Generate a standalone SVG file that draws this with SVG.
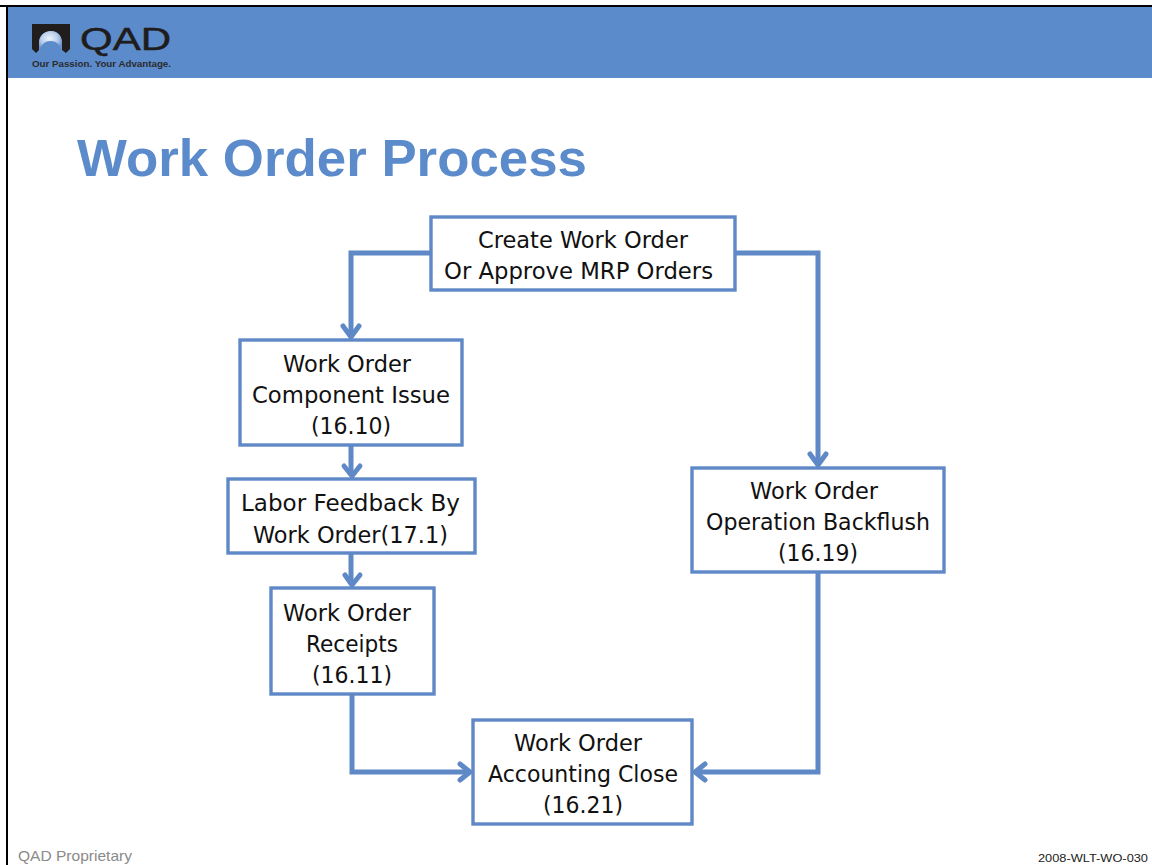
<svg xmlns="http://www.w3.org/2000/svg" width="1152" height="865" viewBox="0 0 1152 865">
<style>
.box{fill:#fff;stroke:#5f88c6;stroke-width:3.4}
.t{font-family:"DejaVu Sans",Verdana,sans-serif;font-size:23px;fill:#111;text-anchor:middle}
.c{fill:none;stroke:#5f88c6;stroke-width:5}
.h{fill:none;stroke:#5f88c6;stroke-width:5;stroke-linecap:round;stroke-linejoin:round}
</style>
<defs>
<radialGradient id="g" cx="0.45" cy="0.4" r="0.6"><stop offset="0" stop-color="#eef2fa"/><stop offset="0.6" stop-color="#b9cdea"/><stop offset="1" stop-color="#6d93cc"/></radialGradient>
</defs>
<rect width="1152" height="865" fill="#fff"/>
<rect x="7" y="6" width="1145" height="72" fill="#5b8bcb"/>
<rect x="0" y="5" width="1152" height="2" fill="#000"/>
<rect x="6" y="5" width="2" height="860" fill="#000"/>
<g id="logo">
<path d="M32 24H70V49L66 53L62 50V43C62 36 58 31 51 31C44 31 39 36 39 43V50L36 53L32 49Z" fill="#211d1c"/>
<path d="M39 50V43C39 36 44 31 51 31C58 31 62 36 62 43V50L58 44C55 40 46 40 43 44Z" fill="url(#g)"/>
<text x="80" y="50" font-family="'Liberation Sans',sans-serif" font-size="32" stroke="#1f1c1c" stroke-width="0.5" fill="#1f1c1c" textLength="91" lengthAdjust="spacingAndGlyphs">QAD</text>
<text x="32" y="67" font-family="'Liberation Sans',sans-serif" font-size="9" font-weight="700" fill="#2a2a2a" textLength="139" lengthAdjust="spacingAndGlyphs">Our Passion. Your Advantage.</text>
</g>
<text x="77" y="176" font-family="'Liberation Sans',Arial,sans-serif" font-size="52" font-weight="700" fill="#5b8bcb" textLength="510" lengthAdjust="spacingAndGlyphs">Work Order Process</text>
<g id="connectors">
<path class="c" d="M431 253H351V336"/><path class="h" d="M343 326L351 337L359 326"/>
<path class="c" d="M735 253H818V464"/><path class="h" d="M810 454L818 465L826 454"/>
<path class="c" d="M351 445V475"/><path class="h" d="M344 466L352 476L360 466"/>
<path class="c" d="M351 553V584"/><path class="h" d="M345 575L352 585L360 575"/>
<path class="c" d="M352 694V772H469"/><path class="h" d="M460 764L470 772L460 780"/>
<path class="c" d="M818 572V772H696"/><path class="h" d="M705 764L695 772L705 780"/>
</g>
<g id="n1"><rect class="box" x="431" y="217" width="304" height="73"/><text class="t" x="583" y="248" textLength="210" lengthAdjust="spacingAndGlyphs">Create Work Order</text><text class="t" x="578.5" y="279" textLength="269" lengthAdjust="spacingAndGlyphs">Or Approve MRP Orders</text></g>
<g id="n2"><rect class="box" x="240" y="340" width="222" height="105"/><text class="t" x="347" y="372" textLength="128" lengthAdjust="spacingAndGlyphs">Work Order</text><text class="t" x="351" y="403" textLength="198" lengthAdjust="spacingAndGlyphs">Component Issue</text><text class="t" x="351" y="434" textLength="80" lengthAdjust="spacingAndGlyphs">(16.10)</text></g>
<g id="n3"><rect class="box" x="228" y="479" width="247" height="74"/><text class="t" x="350.500" y="511" textLength="219" lengthAdjust="spacingAndGlyphs">Labor Feedback By</text><text class="t" x="350.500" y="543" textLength="195" lengthAdjust="spacingAndGlyphs">Work Order(17.1)</text></g>
<g id="n4"><rect class="box" x="271" y="588" width="163" height="106"/><text class="t" x="347" y="621" textLength="128" lengthAdjust="spacingAndGlyphs">Work Order</text><text class="t" x="352" y="652" textLength="92" lengthAdjust="spacingAndGlyphs">Receipts</text><text class="t" x="352" y="683" textLength="80" lengthAdjust="spacingAndGlyphs">(16.11)</text></g>
<g id="n5"><rect class="box" x="692" y="468" width="252" height="104"/><text class="t" x="814" y="499" textLength="128" lengthAdjust="spacingAndGlyphs">Work Order</text><text class="t" x="818" y="530" textLength="224" lengthAdjust="spacingAndGlyphs">Operation Backflush</text><text class="t" x="818" y="561" textLength="80" lengthAdjust="spacingAndGlyphs">(16.19)</text></g>
<g id="n6"><rect class="box" x="473" y="720" width="219" height="104"/><text class="t" x="578" y="751" textLength="128" lengthAdjust="spacingAndGlyphs">Work Order</text><text class="t" x="583" y="782" textLength="190" lengthAdjust="spacingAndGlyphs">Accounting Close</text><text class="t" x="583" y="813" textLength="80" lengthAdjust="spacingAndGlyphs">(16.21)</text></g>
<text x="18" y="861" font-family="'Liberation Sans',Arial,sans-serif" font-size="15" fill="#8a8a8a" textLength="114" lengthAdjust="spacingAndGlyphs">QAD Proprietary</text>
<text x="1038" y="862" font-family="'Liberation Sans',Arial,sans-serif" font-size="11" fill="#222" textLength="110" lengthAdjust="spacingAndGlyphs">2008-WLT-WO-030</text>
</svg>
